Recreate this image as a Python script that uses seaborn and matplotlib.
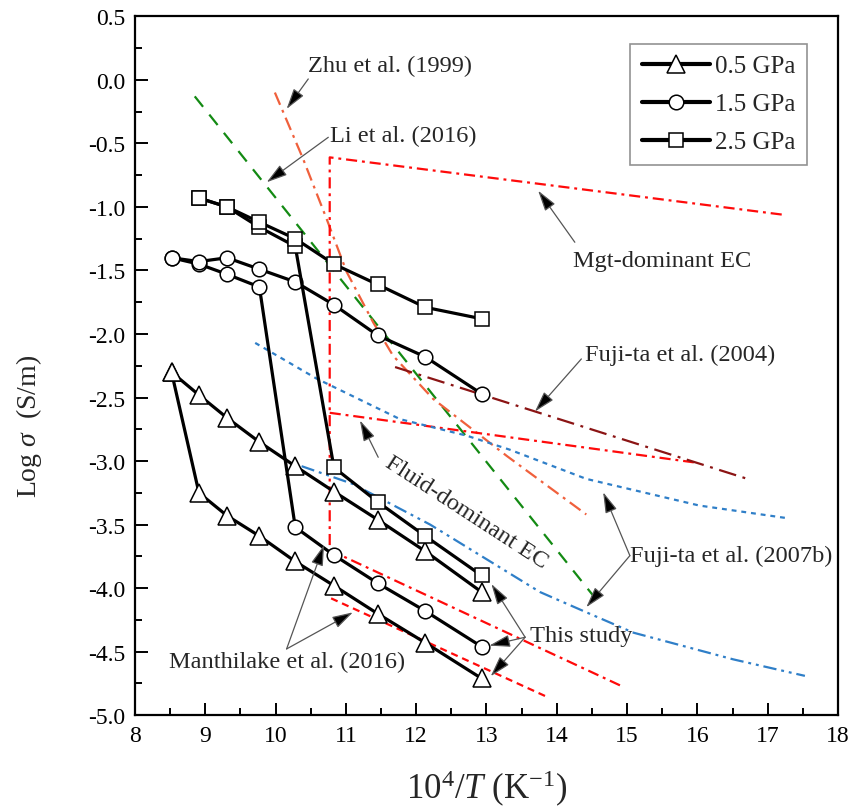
import matplotlib
matplotlib.use("Agg")
import matplotlib.pyplot as plt
import seaborn as sns

# ---- measured conductivity, this study (x = 10^4/T, y = log sigma) ----
inv_T = [8.52, 8.91, 9.31, 9.77, 10.28, 10.83, 11.45, 12.13, 12.93]
inv_T_25 = [8.91, 9.31, 9.77, 10.28, 10.83, 11.45, 12.13, 12.93]

gpa05_path1 = [-2.30, -2.48, -2.66, -2.85, -3.04, -3.24, -3.46, -3.71, -4.03]
gpa05_path2 = [-2.30, -3.25, -3.43, -3.59, -3.79, -3.98, -4.20, -4.43, -4.71]
gpa15_path1 = [-1.40, -1.43, -1.40, -1.49, -1.59, -1.77, -2.01, -2.18, -2.47]
gpa15_path2 = [-1.40, -1.45, -1.53, -1.63, -3.52, -3.74, -3.96, -4.18, -4.46]
gpa25_path1 = [-0.93, -1.00, -1.12, -1.25, -1.45, -1.61, -1.79, -1.88]
gpa25_path2 = [-0.93, -1.00, -1.16, -1.31, -3.05, -3.32, -3.59, -3.90]

pressure_labels = ["0.5 GPa", "1.5 GPa", "2.5 GPa"]

# ---- literature curves ----
li_x = [8.85, 14.52]
li_y = [-0.13, -4.06]
zhu_x = [9.99, 10.39, 10.73, 11.01, 11.39, 11.67, 12.24, 13.29, 14.42]
zhu_y = [-0.10, -0.62, -1.10, -1.51, -1.91, -2.17, -2.51, -2.96, -3.42]
mgt_x = [17.20, 10.77, 10.77]
mgt_y = [-1.06, -0.61, -3.70]
fluid_x = [10.77, 15.95]
fluid_y = [-2.62, -3.01]
manth_dd_x = [10.77, 14.92]
manth_dd_y = [-3.70, -4.77]
manth_dash_x = [10.79, 13.88]
manth_dash_y = [-4.08, -4.86]
fuji04_x = [11.70, 16.77]
fuji04_y = [-2.26, -3.15]
fuji07a_x = [9.71, 10.58, 11.77, 12.72, 13.33, 14.42, 16.03, 17.29]
fuji07a_y = [-2.07, -2.35, -2.67, -2.80, -2.91, -3.14, -3.35, -3.45]
fuji07b_x = [10.37, 11.10, 12.20, 13.76, 14.38, 15.09, 16.51, 17.53]
fuji07b_y = [-3.04, -3.18, -3.50, -4.03, -4.18, -4.35, -4.56, -4.69]

sns.set_theme(style="ticks")
plt.rcParams["font.family"] = ["Liberation Serif", "DejaVu Serif"]
plt.rcParams["mathtext.fontset"] = "custom"
plt.rcParams["mathtext.rm"] = "Liberation Serif"
plt.rcParams["mathtext.it"] = "Liberation Serif:italic"
plt.rcParams["axes.unicode_minus"] = False

fig = plt.figure(figsize=(8.62, 8.12), dpi=100)
ax = fig.add_axes([0.1566, 0.1179, 0.8155, 0.8608])

ref_lw = 1.6
dashdot = (0, (5, 2.2, 1.3, 2.2))


def ref_line(x, y, color, ls, lw=ref_lw):
    sns.lineplot(x=x, y=y, ax=ax, color=color, linestyle=ls, lw=lw,
                 sort=False, estimator=None, zorder=2)


ref_line(li_x, li_y, "#138a13", (0, (6, 4.5)))
ref_line(zhu_x, zhu_y, "#f0603c", (0, (6, 2.5, 1.3, 2.5)))
ref_line(mgt_x, mgt_y, "#ff0a0a", dashdot)
ref_line(fluid_x, fluid_y, "#ff0a0a", dashdot)
ref_line(manth_dd_x, manth_dd_y, "#ff0a0a", dashdot)
ref_line(manth_dash_x, manth_dash_y, "#ff0a0a", (0, (3.2, 2.2)))
ref_line(fuji04_x, fuji04_y, "#8b1414", (0, (8, 3, 1.3, 3)))
ref_line(fuji07a_x, fuji07a_y, "#2f7fc8", (0, (2.2, 2.2)))
ref_line(fuji07b_x, fuji07b_y, "#2f7fc8", (0, (6, 2.2, 1.3, 2.2, 1.3, 2.2)))

# ---- this study ----
data_kw = dict(color="black", lw=2.3, markerfacecolor="white",
               markeredgecolor="black", markeredgewidth=1.1,
               sort=False, estimator=None, zorder=4)
series = [
    (inv_T, gpa05_path1, gpa05_path2, "^", 12.5, pressure_labels[0]),
    (inv_T, gpa15_path1, gpa15_path2, "o", 10.5, pressure_labels[1]),
    (inv_T_25, gpa25_path1, gpa25_path2, "s", 10.0, pressure_labels[2]),
]
handles = []
for xs, y1, y2, mk, ms, lab in series:
    sns.lineplot(x=xs, y=y2, ax=ax, marker=mk, markersize=ms, **data_kw)
    sns.lineplot(x=xs, y=y1, ax=ax, marker=mk, markersize=ms, **data_kw)
    handles.append((ax.lines[-1], lab))

ax.set_xlim(8, 18)
ax.set_ylim(-5.0, 0.5)
ax.set_xticks(range(8, 19))
ax.set_xticks([8.5 + i for i in range(10)], minor=True)
yt = [-5.0 + 0.5 * i for i in range(12)]
ax.set_yticks(yt)
ax.set_yticklabels([f"{v:.1f}" for v in yt])
ax.set_yticks([-4.75 + 0.5 * i for i in range(11)], minor=True)
ax.tick_params(axis="both", which="both", direction="in", top=False,
               right=False, labelsize=17, colors="black", pad=7)
ax.tick_params(which="major", length=9, width=1.4)
ax.tick_params(which="minor", length=5, width=1.4)
for s in ax.spines.values():
    s.set_linewidth(1.6)
    s.set_color("black")

ax.set_xlabel("10$^4$/$T$ (K$^{-1}$)", fontsize=25)
ax.xaxis.set_label_coords(0.50, -0.076)
ax.set_ylabel("Log $\\sigma$  (S/m)", fontsize=20)
ax.yaxis.set_label_coords(-0.130, 0.414)

leg = ax.legend([h for h, _ in handles], [l for _, l in handles],
                loc="upper right", bbox_to_anchor=(0.956, 0.961),
                fontsize=18, frameon=True, fancybox=False,
                edgecolor="#777777", handlelength=2.75, handletextpad=0.2,
                labelspacing=0.62, borderpad=0.45, borderaxespad=0.0)
leg.get_frame().set_linewidth(1.2)
leg.set_zorder(6)
for ln in leg.get_lines():
    ln.set_linewidth(3.0)

# ---- annotations ----
txt_fs = 17.6
arrow_kw = dict(arrowstyle="-|>,head_length=0.75,head_width=0.22",
                fc="black", ec="#555555", lw=0.9, shrinkA=0, shrinkB=0,
                mutation_scale=17)


def arrow(tail, tip):
    ax.annotate("", xy=tip, xytext=tail, arrowprops=arrow_kw, zorder=5)


ax.text(10.46, 0.11, "Zhu et al. (1999)", fontsize=txt_fs, va="center")
arrow((10.465, 0.007), (10.157, -0.229))

ax.text(10.77, -0.44, "Li et al. (2016)", fontsize=txt_fs, va="center")
arrow((10.75, -0.452), (9.873, -0.806))

ax.text(14.23, -1.423, "Mgt-dominant EC", fontsize=txt_fs, va="center")
arrow((14.257, -1.278), (13.735, -0.872))

ax.text(14.40, -2.157, "Fuji-ta et al. (2004)", fontsize=txt_fs, va="center")
arrow((14.35, -2.196), (13.69, -2.61))

ax.text(12.71, -3.40, "Fluid-dominant EC", fontsize=txt_fs, ha="center",
        va="center", rotation=-33, rotation_mode="anchor")
arrow((11.46, -2.97), (11.20, -2.68))

ax.text(15.04, -3.744, "Fuji-ta et al. (2007b)", fontsize=txt_fs, va="center")
arrow((15.04, -3.744), (14.66, -3.245))
arrow((15.04, -3.744), (14.42, -4.15))

ax.text(13.62, -4.373, "This study", fontsize=txt_fs, va="center")
arrow((13.55, -4.386), (13.07, -3.967))
arrow((13.55, -4.386), (13.04, -4.452))
arrow((13.55, -4.386), (13.06, -4.693))

ax.text(10.17, -4.578, "Manthilake et al. (2016)", fontsize=txt_fs,
        ha="center", va="center")
arrow((10.157, -4.478), (10.69, -3.66))
arrow((10.157, -4.478), (11.10, -4.19))

fig.savefig("out.png", dpi=100, facecolor="white")
